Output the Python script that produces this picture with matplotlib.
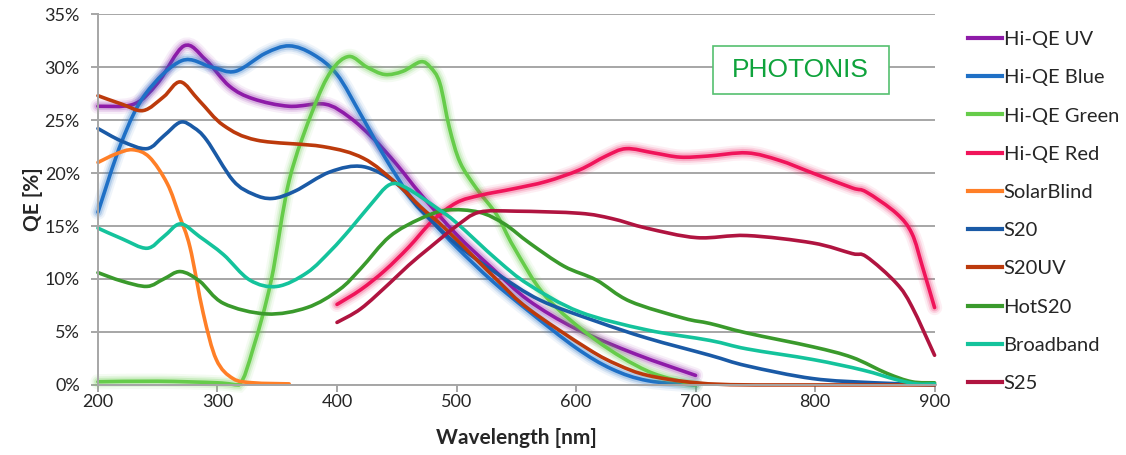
import matplotlib
matplotlib.use("Agg")
import matplotlib.pyplot as plt
from matplotlib.path import Path
from matplotlib.patches import PathPatch, Rectangle
from matplotlib.lines import Line2D
import numpy as np

# QE curves (wavelength nm, QE %)
hiqe_uv_wl = [200, 230, 250, 272, 290, 310, 330, 360, 390, 410, 430, 450, 470, 500, 530, 560, 600, 650, 700]
hiqe_uv = [26.3, 26.5, 28.5, 32.0, 30.7, 28.2, 27.0, 26.3, 26.5, 25.3, 23.3, 20.8, 18.0, 14.2, 11.0, 8.0, 5.3, 2.9, 0.9]

hiqe_blue_wl = [200, 220, 240, 270, 295, 315, 340, 360, 380, 400, 420, 440, 460, 480, 500, 530, 560, 600, 630, 660, 700]
hiqe_blue = [16.3, 23.0, 27.5, 30.6, 30.0, 29.6, 31.3, 32.0, 31.2, 29.3, 25.5, 21.5, 18.0, 15.4, 13.0, 9.8, 7.0, 3.5, 1.5, 0.4, 0.0]

hiqe_green_wl = [200, 250, 300, 318, 330, 345, 360, 380, 395, 410, 425, 440, 455, 470, 478, 486, 494, 503, 517, 534, 548, 575, 617, 660, 700]
hiqe_green = [0.3, 0.35, 0.2, 0.0, 3.5, 9.9, 19.3, 26.0, 29.6, 31.0, 30.0, 29.3, 29.6, 30.5, 30.0, 28.5, 24.3, 21.0, 18.5, 16.0, 13.0, 8.3, 4.2, 1.3, 0.0]

hiqe_red_wl = [400, 420, 440, 460, 480, 500, 520, 547, 575, 603, 625, 642, 665, 687, 710, 743, 770, 798, 831, 843, 868, 881, 890, 900]
hiqe_red = [7.6, 9.0, 10.8, 13.0, 15.5, 17.2, 17.9, 18.5, 19.2, 20.3, 21.6, 22.3, 21.9, 21.5, 21.6, 21.9, 21.2, 20.0, 18.6, 18.2, 16.2, 14.3, 11.1, 7.3]

solar_wl = [200, 215, 229, 243, 258, 268, 277, 288, 299, 313, 330, 360]
solar = [21.0, 21.8, 22.2, 21.5, 19.0, 16.0, 13.0, 6.8, 2.4, 0.6, 0.2, 0.1]

s20_wl = [200, 220, 241, 255, 269, 280, 291, 313, 330, 346, 365, 394, 422, 450, 470, 500, 534, 570, 617, 660, 712, 743, 798, 850, 900]
s20 = [24.2, 23.0, 22.3, 23.5, 24.8, 24.3, 23.1, 19.3, 18.0, 17.6, 18.3, 20.1, 20.6, 19.0, 16.5, 13.3, 10.5, 8.0, 6.0, 4.4, 2.8, 1.8, 0.6, 0.2, 0.0]

s20uv_wl = [200, 220, 238, 255, 269, 285, 305, 333, 388, 422, 450, 470, 492, 534, 560, 610, 635, 660, 701, 750, 900]
s20uv = [27.3, 26.5, 25.9, 27.2, 28.6, 26.8, 24.5, 23.1, 22.5, 21.4, 19.0, 16.8, 14.6, 9.9, 7.2, 3.4, 1.9, 0.9, 0.2, 0.0, 0.0]

hots20_wl = [200, 220, 241, 255, 269, 285, 305, 341, 375, 402, 420, 444, 470, 492, 519, 540, 561, 590, 617, 645, 690, 712, 743, 798, 831, 860, 881, 900]
hots20 = [10.6, 9.8, 9.3, 10.0, 10.7, 9.8, 7.7, 6.7, 7.3, 9.0, 11.0, 14.0, 15.7, 16.5, 16.3, 15.2, 13.4, 11.2, 9.9, 7.9, 6.3, 5.8, 4.9, 3.6, 2.6, 1.1, 0.3, 0.2]

broad_wl = [200, 220, 241, 255, 269, 285, 305, 327, 350, 375, 395, 411, 428, 444, 458, 486, 500, 534, 560, 603, 659, 712, 743, 798, 840, 868, 885, 900]
broad = [14.8, 13.8, 12.9, 14.0, 15.2, 14.0, 12.3, 9.9, 9.3, 10.6, 12.7, 14.7, 17.0, 18.9, 18.6, 16.5, 15.3, 11.8, 9.5, 6.9, 5.2, 4.2, 3.4, 2.4, 1.4, 0.5, 0.1, 0.1]

s25_wl = [400, 420, 444, 460, 478, 500, 519, 550, 603, 630, 659, 701, 743, 798, 831, 843, 868, 881, 900]
s25 = [5.9, 7.2, 9.6, 11.3, 13.0, 15.0, 16.3, 16.4, 16.2, 15.7, 14.8, 13.9, 14.1, 13.4, 12.4, 12.1, 9.6, 7.4, 2.8]

names = ["Hi-QE UV", "Hi-QE Blue", "Hi-QE Green", "Hi-QE Red", "SolarBlind",
         "S20", "S20UV", "HotS20", "Broadband", "S25"]
colors = ["#8E1BA8", "#1F70C6", "#66CC4A", "#F0145A", "#FF7F27",
          "#1A5AA6", "#BC3A0C", "#3A9A2C", "#14C39C", "#B01440"]
series = [(hiqe_uv_wl, hiqe_uv), (hiqe_blue_wl, hiqe_blue), (hiqe_green_wl, hiqe_green),
          (hiqe_red_wl, hiqe_red), (solar_wl, solar), (s20_wl, s20), (s20uv_wl, s20uv),
          (hots20_wl, hots20), (broad_wl, broad), (s25_wl, s25)]
glow = [True, True, True, True, False, False, False, False, False, False]


def smooth_path(x, y):
    # excel-like smoothed line: catmull-rom through the points as bezier segments
    p = np.column_stack([x, y]).astype(float)
    pts = np.vstack([p[0], p, p[-1]])
    verts = [p[0]]
    codes = [Path.MOVETO]
    for i in range(1, len(pts) - 2):
        c1 = pts[i] + (pts[i + 1] - pts[i - 1]) / 6.0
        c2 = pts[i + 1] - (pts[i + 2] - pts[i]) / 6.0
        c1[1] = max(c1[1], 0.0)
        c2[1] = max(c2[1], 0.0)
        verts += [c1, c2, pts[i + 1]]
        codes += [Path.CURVE4] * 3
    return Path(verts, codes)


plt.rcParams['font.family'] = ['Lato', 'DejaVu Sans']
fig = plt.figure(figsize=(11.26, 4.55), dpi=100)
ax = fig.add_axes([0.087, 0.154, 0.743, 0.815])

ax.set_xlim(200, 900)
ax.set_ylim(0, 35)
ax.set_xticks(range(200, 901, 100))
ax.set_yticks(range(0, 36, 5))
ax.set_yticklabels([f"{v}%" for v in range(0, 36, 5)])
ax.grid(axis='y', color='#A6A6A6', linewidth=1.4)
ax.set_axisbelow(True)
for s in ['top', 'right']:
    ax.spines[s].set_visible(False)
for s in ['left', 'bottom']:
    ax.spines[s].set_color('#A6A6A6')
    ax.spines[s].set_linewidth(1.4)
ax.tick_params(axis='both', colors='#A6A6A6', width=1.4, length=5, labelsize=13, labelcolor='#262626')
ax.tick_params(axis='x', pad=1.5)
ax.tick_params(axis='y', pad=8)

for (wl, qe), col, g in zip(series, colors, glow):
    path = smooth_path(wl, qe)
    if g:
        for lw, a in [(11, 0.07), (8, 0.12), (5.5, 0.2)]:
            ax.add_patch(PathPatch(path, fill=False, edgecolor=col, linewidth=lw,
                                   alpha=a, capstyle='round', clip_on=False))
    ax.add_patch(PathPatch(path, fill=False, edgecolor=col, linewidth=2.6,
                           capstyle='round', joinstyle='round', clip_on=False))

ax.set_xlabel("Wavelength [nm]", fontsize=15, fontweight='bold', color='#262626', labelpad=13)
ax.set_ylabel("QE [%]", fontsize=15, fontweight='bold', color='#262626', labelpad=1)

# PHOTONIS label box
ax.add_patch(Rectangle((0.735, 0.785), 0.21, 0.13, transform=ax.transAxes, fill=True,
                       facecolor='white', edgecolor='#55C070', linewidth=1.2, zorder=5))
ax.text(0.84, 0.85, "PHOTONIS", transform=ax.transAxes, ha='center', va='center',
        fontsize=19, color='#0FA33C', family='Liberation Sans', zorder=6)

handles = [Line2D([0], [0], color=c, linewidth=3) for c in colors]
fig.legend(handles, names, loc='upper left', bbox_to_anchor=(0.86, 0.932), frameon=False,
           fontsize=14.5, handlelength=1.65, handletextpad=0.1, labelspacing=1.05,
           borderaxespad=0, borderpad=0, labelcolor='#262626')

fig.savefig("out.png", dpi=100)
